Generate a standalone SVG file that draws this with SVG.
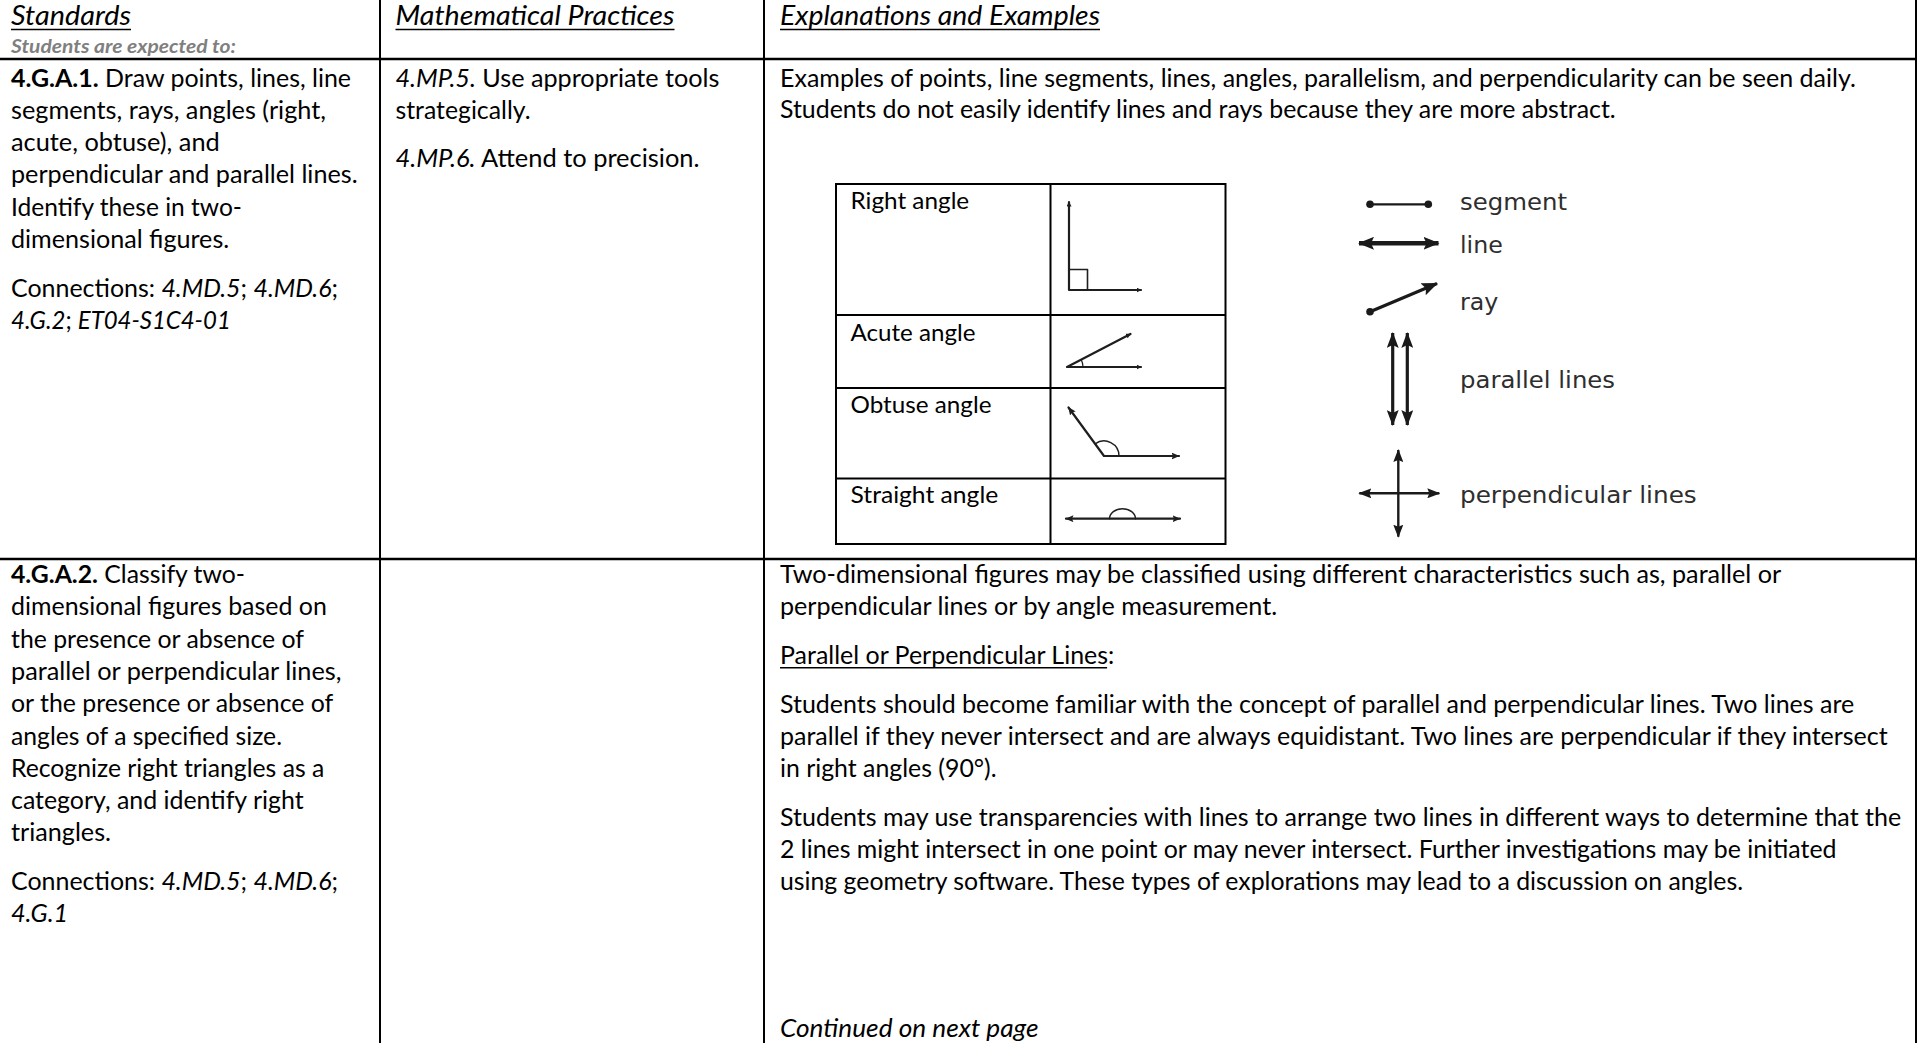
<svg xmlns="http://www.w3.org/2000/svg" width="1919" height="1043" viewBox="0 0 1919 1043">
<defs>
<style>
text { font-family: Lato, "Open Sans", "Liberation Sans", sans-serif; fill: #000; }
.b { font-size: 24.5px; }
.h { font-size: 26.7px; font-style: italic; }
.sub { font-size: 18px; font-style: italic; font-weight: bold; fill: #7f7f7f; }
.bd { font-weight: bold; }
.it { font-style: italic; }
.grid line { stroke: #000; stroke-width: 2; }
.ul { stroke: #000; stroke-width: 1.5; }
.tbl { fill: none; stroke: #000; stroke-width: 2; }
.at { font-size: 24px; }
.fig { fill: none; stroke: #1e1e1e; stroke-width: 2.2; stroke-linecap: round; stroke-linejoin: round; }
.sym { fill: none; stroke: #1a1a1a; }
.lbl { font-family: "DejaVu Sans", Verdana, sans-serif; font-size: 23.7px; fill: #2e2e2e; }
.dot { fill: #1a1a1a; }
</style>
<marker id="arL" viewBox="0 0 16 13" markerWidth="16" markerHeight="13" refX="15" refY="6.5" orient="auto-start-reverse" markerUnits="userSpaceOnUse"><path d="M0,0 L16,6.5 L0,13 L3,6.5 z" fill="#1a1a1a"/></marker>
<marker id="arP" viewBox="0 0 16 12" markerWidth="16" markerHeight="12" refX="15" refY="6" orient="auto-start-reverse" markerUnits="userSpaceOnUse"><path d="M0,0 L16,6 L0,12 L3,6 z" fill="#1a1a1a"/></marker>
<marker id="arM" viewBox="0 0 13 10" markerWidth="13" markerHeight="10" refX="12" refY="5" orient="auto-start-reverse" markerUnits="userSpaceOnUse"><path d="M0,0 L13,5 L0,10 L2,5 z" fill="#1a1a1a"/></marker>
<marker id="arS" viewBox="0 0 8 7" markerWidth="8" markerHeight="7" refX="7.5" refY="3.5" orient="auto-start-reverse" markerUnits="userSpaceOnUse"><path d="M0,0 L8,3.5 L0,7 L1.5,3.5 z" fill="#1e1e1e"/></marker>
<marker id="arT" viewBox="0 0 5 5" markerWidth="5" markerHeight="5" refX="4.5" refY="2.5" orient="auto-start-reverse" markerUnits="userSpaceOnUse"><path d="M0,0 L5,2.5 L0,5 z" fill="#1e1e1e"/></marker>
</defs>
<rect x="0" y="0" width="1919" height="1043" fill="#fff"/>

<g id="grid" class="grid">
<line x1="380" y1="0" x2="380" y2="1043"/>
<line x1="764" y1="0" x2="764" y2="1043"/>
<line x1="1916" y1="0" x2="1916" y2="1043"/>
<line x1="0" y1="59" x2="1917" y2="59" style="stroke-width:2.4"/>
<line x1="0" y1="559" x2="1917" y2="559" style="stroke-width:2.4"/>
</g>

<g id="hdr-standards">
<text class="h" x="11" y="25" textLength="120" lengthAdjust="spacingAndGlyphs">Standards</text>
<line class="ul" x1="11" y1="29.5" x2="131" y2="29.5"/>
<text class="sub" x="11" y="52.5" textLength="225" lengthAdjust="spacingAndGlyphs">Students are expected to:</text>
</g>
<g id="hdr-practices">
<text class="h" x="395.5" y="25" textLength="279" lengthAdjust="spacingAndGlyphs">Mathematical Practices</text>
<line class="ul" x1="395.5" y1="29.5" x2="674.5" y2="29.5"/>
</g>
<g id="hdr-explanations">
<text class="h" x="780" y="25" textLength="320" lengthAdjust="spacingAndGlyphs">Explanations and Examples</text>
<line class="ul" x1="780" y1="29.5" x2="1100" y2="29.5"/>
</g>

<g id="r1-standard">
<text class="b" x="11" y="86.5" textLength="340" lengthAdjust="spacingAndGlyphs"><tspan class="bd">4.G.A.1.</tspan> Draw points, lines, line</text>
<text class="b" x="11" y="118.8" textLength="315" lengthAdjust="spacingAndGlyphs">segments, rays, angles (right,</text>
<text class="b" x="11" y="151.1" textLength="208.7" lengthAdjust="spacingAndGlyphs">acute, obtuse), and</text>
<text class="b" x="11" y="183.4" textLength="346.6" lengthAdjust="spacingAndGlyphs">perpendicular and parallel lines.</text>
<text class="b" x="11" y="215.7" textLength="231" lengthAdjust="spacingAndGlyphs">Identify these in two-</text>
<text class="b" x="11" y="248" textLength="218.2" lengthAdjust="spacingAndGlyphs">dimensional figures.</text>
<text class="b" x="11" y="296.6" textLength="327" lengthAdjust="spacingAndGlyphs">Connections: <tspan class="it">4.MD.5</tspan>; <tspan class="it">4.MD.6</tspan>;</text>
<text class="b" x="11" y="328.9" textLength="219.8" lengthAdjust="spacingAndGlyphs"><tspan class="it">4.G.2</tspan>; <tspan class="it">ET04-S1C4-01</tspan></text>
</g>

<g id="r1-practices">
<text class="b" x="395.5" y="86.5" textLength="324" lengthAdjust="spacingAndGlyphs"><tspan class="it">4.MP.5.</tspan> Use appropriate tools</text>
<text class="b" x="395.5" y="118.8" textLength="135" lengthAdjust="spacingAndGlyphs">strategically.</text>
<text class="b" x="395.5" y="167.4" textLength="304" lengthAdjust="spacingAndGlyphs"><tspan class="it">4.MP.6.</tspan> Attend to precision.</text>
</g>

<g id="r1-explanation">
<text class="b" x="780" y="86.5" textLength="1075.8" lengthAdjust="spacingAndGlyphs">Examples of points, line segments, lines, angles, parallelism, and perpendicularity can be seen daily.</text>
<text class="b" x="780" y="117.8" textLength="835.7" lengthAdjust="spacingAndGlyphs">Students do not easily identify lines and rays because they are more abstract.</text>

<g id="angle-table">
<rect class="tbl" x="836" y="184" width="389.5" height="360"/>
<line class="tbl" x1="1050.5" y1="184" x2="1050.5" y2="544"/>
<line class="tbl" x1="836" y1="315" x2="1225.5" y2="315"/>
<line class="tbl" x1="836" y1="388" x2="1225.5" y2="388"/>
<line class="tbl" x1="836" y1="478.5" x2="1225.5" y2="478.5"/>
<text class="at" x="850.5" y="209.3" textLength="118.7" lengthAdjust="spacingAndGlyphs">Right angle</text>
<text class="at" x="850.5" y="340.7" textLength="125" lengthAdjust="spacingAndGlyphs">Acute angle</text>
<text class="at" x="850.5" y="413.3" textLength="141" lengthAdjust="spacingAndGlyphs">Obtuse angle</text>
<text class="at" x="850.5" y="503.3" textLength="147.7" lengthAdjust="spacingAndGlyphs">Straight angle</text>
<path class="fig" d="M1069,202 V290 H1141" marker-start="url(#arT)" marker-end="url(#arT)"/>
<path class="fig" d="M1069,269.5 H1087.5 V290" style="stroke-width:1.6"/>
<path class="fig" d="M1130.5,334 L1067,367 L1141,367" marker-start="url(#arT)" marker-end="url(#arT)"/>
<path class="fig" d="M1083,367 A16,16 0 0 0 1081.2,359.6" style="stroke-width:1.2"/>
<path class="fig" d="M1068.5,407.5 L1104,456 L1179,456" marker-start="url(#arS)" marker-end="url(#arS)"/>
<path class="fig" d="M1119,456 A15,15 0 0 0 1095.1,443.9" style="stroke-width:1.4"/>
<path class="fig" d="M1066,518.7 H1180" marker-start="url(#arS)" marker-end="url(#arS)"/>
<path class="fig" d="M1109.5,518.7 A13,10 0 0 1 1135.5,518.7" style="stroke-width:1.4"/>
</g>

<g id="line-symbols">
<line class="sym" x1="1370" y1="204.3" x2="1428.3" y2="204.3" stroke-width="2.2"/>
<circle class="dot" cx="1370" cy="204.3" r="3.8"/>
<circle class="dot" cx="1428.3" cy="204.3" r="3.8"/>
<text class="lbl" x="1460" y="210" textLength="107" lengthAdjust="spacingAndGlyphs">segment</text>
<line class="sym" x1="1359" y1="243.3" x2="1438.5" y2="243.3" stroke-width="4.5" marker-start="url(#arL)" marker-end="url(#arL)"/>
<text class="lbl" x="1460" y="253.3" textLength="42.8" lengthAdjust="spacingAndGlyphs">line</text>
<line class="sym" x1="1370" y1="311.7" x2="1437" y2="283.5" stroke-width="3.2" marker-end="url(#arL)"/>
<circle class="dot" cx="1370" cy="311.7" r="3.8"/>
<text class="lbl" x="1460" y="310" textLength="38.3" lengthAdjust="spacingAndGlyphs">ray</text>
<line class="sym" x1="1392.7" y1="333" x2="1392.7" y2="425" stroke-width="3.2" marker-start="url(#arP)" marker-end="url(#arP)"/>
<line class="sym" x1="1407.3" y1="333" x2="1407.3" y2="425" stroke-width="3.2" marker-start="url(#arP)" marker-end="url(#arP)"/>
<text class="lbl" x="1460" y="388.3" textLength="155" lengthAdjust="spacingAndGlyphs">parallel lines</text>
<line class="sym" x1="1359.3" y1="493.3" x2="1439.3" y2="493.3" stroke-width="2.4" marker-start="url(#arM)" marker-end="url(#arM)"/>
<line class="sym" x1="1398.3" y1="450" x2="1398.3" y2="536.7" stroke-width="2.4" marker-start="url(#arM)" marker-end="url(#arM)"/>
<text class="lbl" x="1460" y="503.3" textLength="236.7" lengthAdjust="spacingAndGlyphs">perpendicular lines</text>
</g>
</g>

<g id="r2-standard">
<text class="b" x="11" y="583" textLength="234" lengthAdjust="spacingAndGlyphs"><tspan class="bd">4.G.A.2.</tspan> Classify two-</text>
<text class="b" x="11" y="615.3" textLength="315.9" lengthAdjust="spacingAndGlyphs">dimensional figures based on</text>
<text class="b" x="11" y="647.6" textLength="293" lengthAdjust="spacingAndGlyphs">the presence or absence of</text>
<text class="b" x="11" y="679.9" textLength="330.5" lengthAdjust="spacingAndGlyphs">parallel or perpendicular lines,</text>
<text class="b" x="11" y="712.2" textLength="322.3" lengthAdjust="spacingAndGlyphs">or the presence or absence of</text>
<text class="b" x="11" y="744.5" textLength="271" lengthAdjust="spacingAndGlyphs">angles of a specified size.</text>
<text class="b" x="11" y="776.8" textLength="313.3" lengthAdjust="spacingAndGlyphs">Recognize right triangles as a</text>
<text class="b" x="11" y="809.1" textLength="292.6" lengthAdjust="spacingAndGlyphs">category, and identify right</text>
<text class="b" x="11" y="841.4" textLength="100" lengthAdjust="spacingAndGlyphs">triangles.</text>
<text class="b" x="11" y="890" textLength="327" lengthAdjust="spacingAndGlyphs">Connections: <tspan class="it">4.MD.5</tspan>; <tspan class="it">4.MD.6</tspan>;</text>
<text class="b it" x="11" y="922.3" textLength="57.2" lengthAdjust="spacingAndGlyphs">4.G.1</text>
</g>

<g id="r2-explanation">
<text class="b" x="780" y="583" textLength="1001.2" lengthAdjust="spacingAndGlyphs">Two-dimensional figures may be classified using different characteristics such as, parallel or</text>
<text class="b" x="780" y="615.3" textLength="497.1" lengthAdjust="spacingAndGlyphs">perpendicular lines or by angle measurement.</text>
<text class="b" x="780" y="663.9" textLength="334.3" lengthAdjust="spacingAndGlyphs">Parallel or Perpendicular Lines:</text>
<line class="ul" x1="780" y1="667.8" x2="1107.1" y2="667.8"/>
<text class="b" x="780" y="712.5" textLength="1074.2" lengthAdjust="spacingAndGlyphs">Students should become familiar with the concept of parallel and perpendicular lines. Two lines are</text>
<text class="b" x="780" y="744.8" textLength="1107.7" lengthAdjust="spacingAndGlyphs">parallel if they never intersect and are always equidistant. Two lines are perpendicular if they intersect</text>
<text class="b" x="780" y="777.1" textLength="216.6" lengthAdjust="spacingAndGlyphs">in right angles (90°).</text>
<text class="b" x="780" y="825.7" textLength="1121.1" lengthAdjust="spacingAndGlyphs">Students may use transparencies with lines to arrange two lines in different ways to determine that the</text>
<text class="b" x="780" y="858" textLength="1056.5" lengthAdjust="spacingAndGlyphs">2 lines might intersect in one point or may never intersect. Further investigations may be initiated</text>
<text class="b" x="780" y="890.3" textLength="963" lengthAdjust="spacingAndGlyphs">using geometry software. These types of explorations may lead to a discussion on angles.</text>
<text class="b it" x="780" y="1036.7" textLength="258.5" lengthAdjust="spacingAndGlyphs">Continued on next page</text>
</g>
</svg>
